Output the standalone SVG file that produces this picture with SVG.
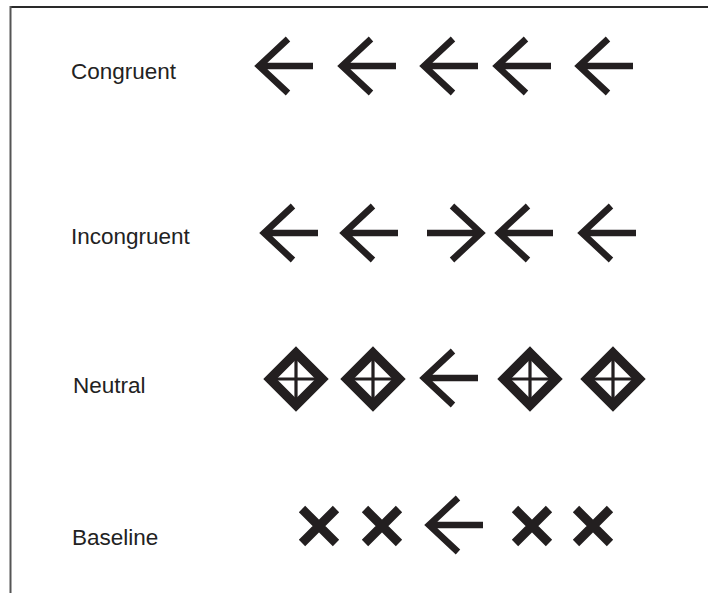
<svg xmlns="http://www.w3.org/2000/svg" xmlns:xlink="http://www.w3.org/1999/xlink" width="708" height="593" viewBox="0 0 708 593">
<style>
.lbl{font-family:"Liberation Sans",Arial,sans-serif;font-size:22.5px;fill:#222}
.arr{fill:none;stroke:#231f20;stroke-width:6.5;stroke-linejoin:miter;stroke-miterlimit:10}
.dia{fill:none;stroke:#231f20;stroke-width:9.5;stroke-linejoin:miter}
.crs{stroke:#231f20;stroke-width:3.2}
.xm{stroke:#231f20;stroke-width:9}
</style>
<defs>
<path id="la" class="arr" d="M29,-27 L0,0 L29,27 M0,0 H54"/>
<g id="dm">
<polygon class="dia" points="0,-26 26,0 0,26 -26,0"/>
<path class="crs" d="M-21,0 H21 M0,-21 V21"/>
</g>
<path id="xx" class="xm" d="M-17,-17 L17,17 M17,-17 L-17,17"/>
</defs>
<g id="frame" fill="none">
<line x1="10" y1="7" x2="708" y2="7" stroke="#2a2a2a" stroke-width="2"/>
<line x1="10.5" y1="6" x2="10.5" y2="593" stroke="#555" stroke-width="2"/>
</g>
<g id="congruent">
<text class="lbl" x="71" y="79">Congruent</text>
<use xlink:href="#la" transform="translate(259,66)"/>
<use xlink:href="#la" transform="translate(342,66)"/>
<use xlink:href="#la" transform="translate(424,66)"/>
<use xlink:href="#la" transform="translate(497,66)"/>
<use xlink:href="#la" transform="translate(579,66)"/>
</g>
<g id="incongruent">
<text class="lbl" x="71" y="244">Incongruent</text>
<use xlink:href="#la" transform="translate(264,233)"/>
<use xlink:href="#la" transform="translate(344,233)"/>
<use xlink:href="#la" transform="translate(481,233) scale(-1,1)"/>
<use xlink:href="#la" transform="translate(499,233)"/>
<use xlink:href="#la" transform="translate(582,233)"/>
</g>
<g id="neutral">
<text class="lbl" x="73" y="393">Neutral</text>
<use xlink:href="#dm" transform="translate(296,379)"/>
<use xlink:href="#dm" transform="translate(373,379)"/>
<use xlink:href="#la" transform="translate(424,378)"/>
<use xlink:href="#dm" transform="translate(530,379)"/>
<use xlink:href="#dm" transform="translate(613,379)"/>
</g>
<g id="baseline">
<text class="lbl" x="72" y="545">Baseline</text>
<use xlink:href="#xx" transform="translate(319,526)"/>
<use xlink:href="#xx" transform="translate(382,526)"/>
<use xlink:href="#la" transform="translate(429,525)"/>
<use xlink:href="#xx" transform="translate(532,526)"/>
<use xlink:href="#xx" transform="translate(593,526)"/>
</g>
</svg>
